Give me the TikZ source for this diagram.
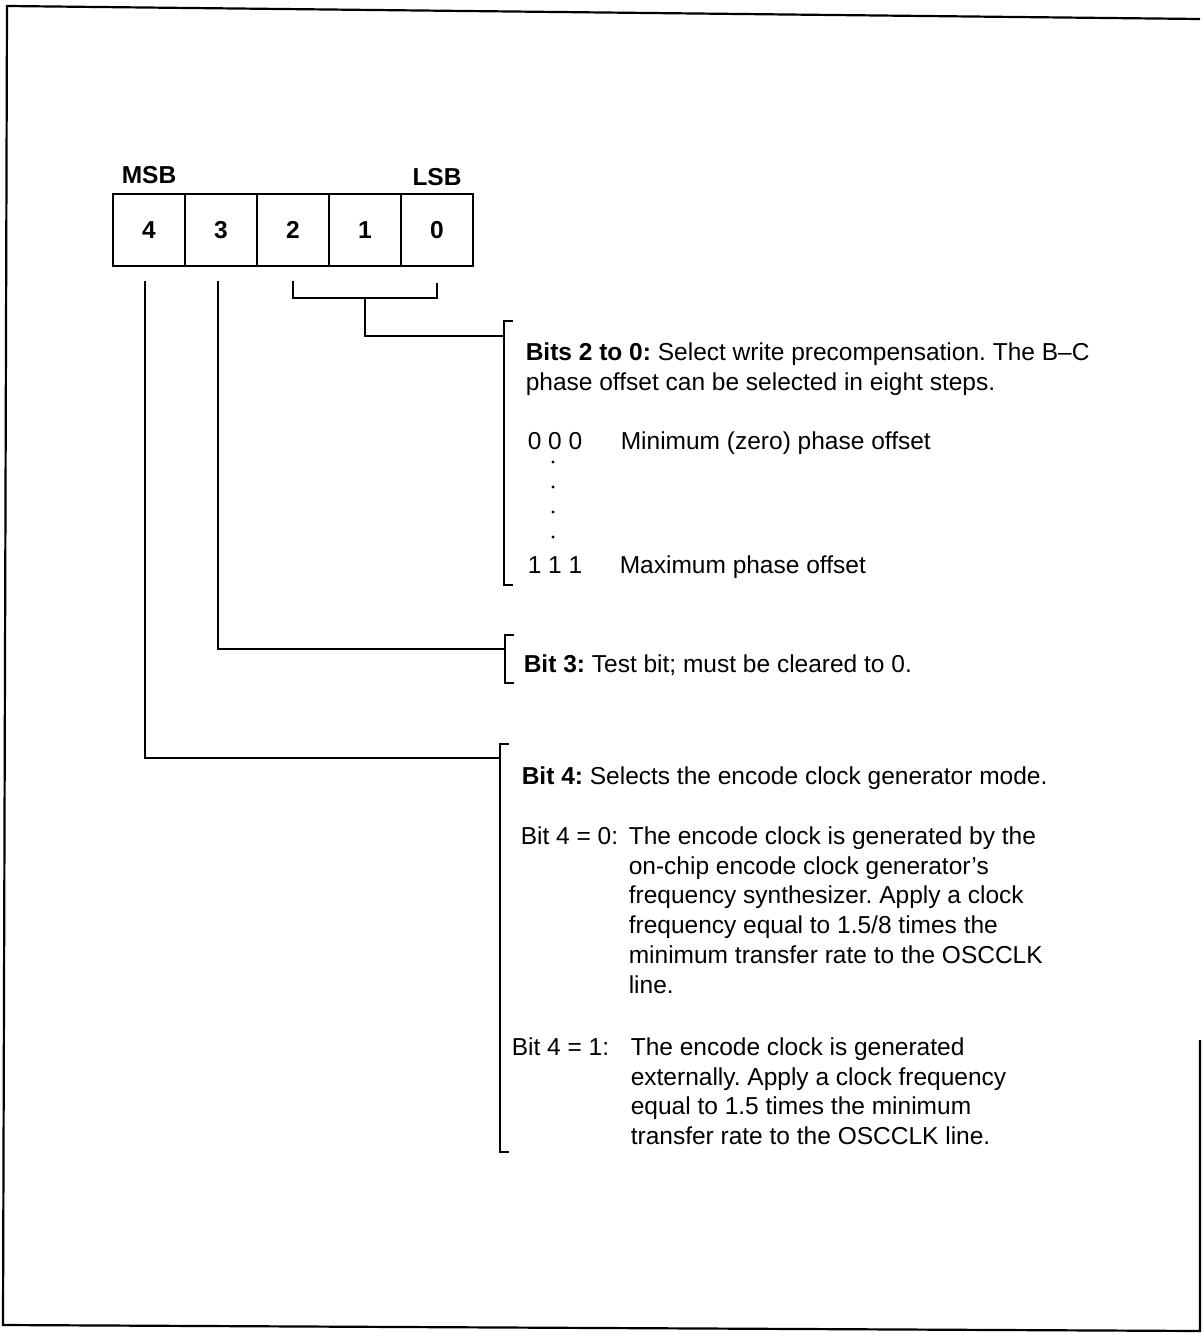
\documentclass[tikz,border=0pt]{standalone}
\usepackage{fontspec}
\setmainfont{Liberation Sans}
\usetikzlibrary{positioning}
\frenchspacing

\begin{document}
\begin{tikzpicture}[
    x=1pt, y=-1pt,
    line width=1.6pt,
    font=\fontsize{24.5}{29.7}\selectfont,
    cell/.style={draw, line width=1.8pt, minimum width=72pt, minimum height=72pt,
                 inner sep=0pt, outer sep=0pt, font=\fontsize{24.5}{29.7}\selectfont\bfseries},
    tag/.style={inner sep=0pt, anchor=base, font=\fontsize{24.5}{29.7}\selectfont\bfseries},
    txt/.style={anchor=base west, inner sep=0pt},
    para/.style={anchor=north west, inner sep=0pt, align=left},
]
  \useasboundingbox (0,0) rectangle (1202,1333);
  % Frame
  \draw[line width=2.2pt] (1200,19) -- (7,6) -- (3,1325) -- (1200,1331) -- (1200,1040);
  % Register
  \node[cell] (b4) at (149,230) {4};
  \node[cell, right=0pt of b4] (b3) {3};
  \node[cell, right=0pt of b3] (b2) {2};
  \node[cell, right=0pt of b2] (b1) {1};
  \node[cell, right=0pt of b1] (b0) {0};
  \node[tag] (msb) at ([yshift=11pt]b4.north) {MSB};
  \node[tag] (lsb) at ([yshift=9pt]b0.north) {LSB};
  % Bracket points
  \coordinate (g2) at (293,298);
  \coordinate (g0) at (437,298);
  \coordinate (k0) at (504,336);
  \coordinate (k0t) at (504,321);
  \coordinate (k0b) at (504,585);
  \coordinate (k3) at (505,649);
  \coordinate (k3t) at (505,635);
  \coordinate (k3b) at (505,683);
  \coordinate (k4) at (500,758);
  \coordinate (k4t) at (500,744);
  \coordinate (k4b) at (500,1152);
  % Connectors
  \draw ([yshift=-15pt]b2.south) -- (g2) -- (g0) -- ([yshift=-17pt]b0.south);
  \draw (b1 |- g2) |- (k0);
  \draw ([xshift=-3pt,yshift=-15pt]b3.south) |- (k3);
  \draw ([xshift=-4pt,yshift=-15pt]b4.south) |- (k4);
  % Brackets
  \draw ([xshift=9pt]k0t) -- (k0t) -- (k0b) -- ([xshift=9pt]k0b);
  \draw ([xshift=9pt]k3t) -- (k3t) -- (k3b) -- ([xshift=9pt]k3b);
  \draw ([xshift=9pt]k4t) -- (k4t) -- (k4b) -- ([xshift=9pt]k4b);
  % Bits 2 to 0
  \node[para] (d20) at (525,342) {\textbf{Bits 2 to 0:} Select write precompensation. The B--C\\
    phase offset can be selected in eight steps.};
  \node[txt] (v0) at (527,449) {0 0 0};
  \node[txt] (m0) at (620,449) {Minimum (zero) phase offset};
  \foreach \y in {462,487,512,537}
    \fill (553,\y) circle (1.6pt);
  \node[txt] (v7) at (527,573) {1 1 1};
  \node[txt] (m7) at (619,573) {Maximum phase offset};
  % Bit 3
  \node[txt] (d3) at (523,672) {\textbf{Bit 3:} Test bit; must be cleared to 0.};
  % Bit 4
  \node[txt] (d4) at (521,784) {\textbf{Bit 4:} Selects the encode clock generator mode.};
  \node[txt] (e0) at (520,844) {Bit 4 = 0:};
  \node[para] (e0t) at (628,826) {The encode clock is generated by the\\
    on-chip encode clock generator's\\
    frequency synthesizer. Apply a clock\\
    frequency equal to 1.5/8 times the\\
    minimum transfer rate to the OSCCLK\\
    line.};
  \node[txt] (e1) at (511,1055) {Bit 4 = 1:};
  \node[para] (e1t) at (630,1037) {The encode clock is generated\\
    externally. Apply a clock frequency\\
    equal to 1.5 times the minimum\\
    transfer rate to the OSCCLK line.};
\end{tikzpicture}
\end{document}
